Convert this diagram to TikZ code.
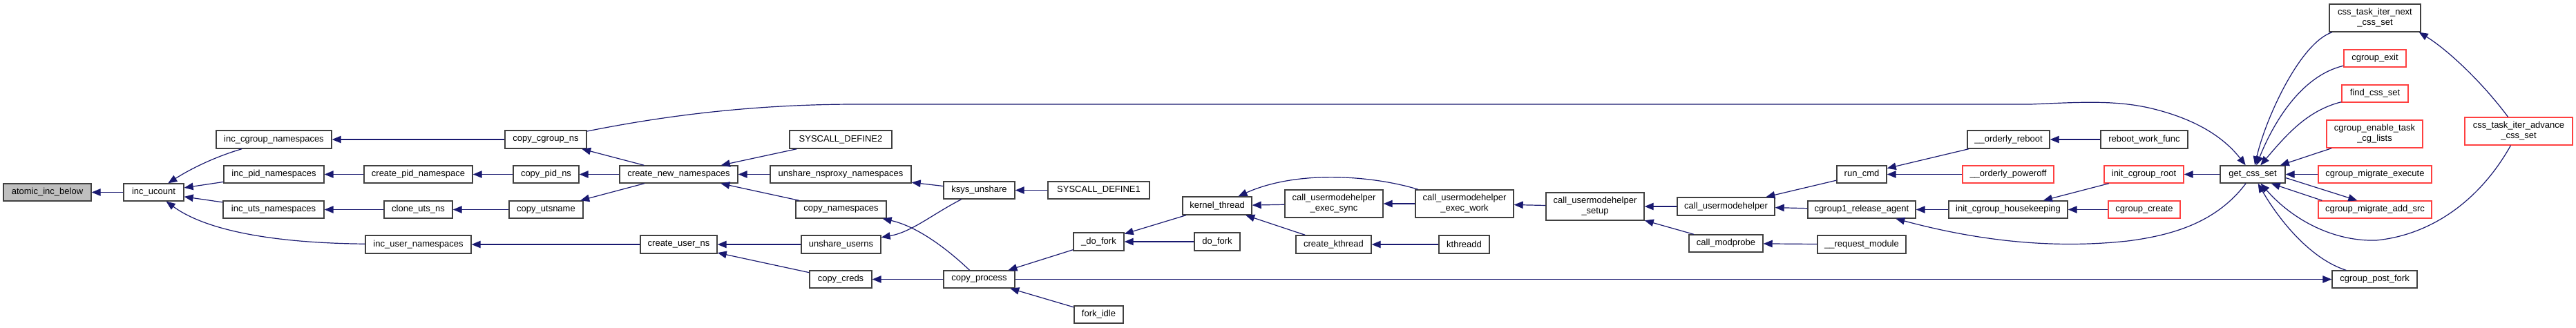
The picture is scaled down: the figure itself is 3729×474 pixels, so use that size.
\documentclass[tikz,border=0pt]{standalone}
\usepackage{fontspec}
\setmainfont{Liberation Sans}
\usetikzlibrary{arrows.meta,calc}
\definecolor{edgeblue}{HTML}{191970}
\definecolor{boxgray}{HTML}{404040}
\definecolor{boxred}{HTML}{FF4040}
\definecolor{fillgray}{HTML}{BFBFBF}
\tikzset{
 fn/.style={draw=boxgray, line width=1.4pt, fill=white, inner sep=0pt, font=\fontsize{13}{15}\selectfont, align=center},
 fnred/.style={fn, draw=boxred},
 fncur/.style={fn, fill=fillgray},
 arr/.style={draw=edgeblue, line width=1.2pt, -{Triangle[length=13pt,width=10.5pt]}},
}
\newcommand\gn[7]{\node[#7, minimum width={(#4)-(#2)}, minimum height={(#5)-(#3)}] (#1) at ({((#2)+(#4))/2},{((#3)+(#5))/2}) {#6};}
\begin{document}
\begin{tikzpicture}[x=1pt,y=-1pt]
\fill[white] (0,0) rectangle (3729,474);
\useasboundingbox (0,0) rectangle (3729,474);
\gn{atomic}{5}{266}{132}{291}{atomic\_inc\_below}{fncur}
\gn{incucount}{179}{266}{266}{291}{inc\_ucount}{fn}
\gn{inccgroupns}{313}{189}{480}{215}{inc\_cgroup\_namespaces}{fn}
\gn{incpidns}{324}{240}{469}{265}{inc\_pid\_namespaces}{fn}
\gn{incutsns}{323}{291}{469}{316}{inc\_uts\_namespaces}{fn}
\gn{incuserns}{529}{341}{682}{367}{inc\_user\_namespaces}{fn}
\gn{createpidns}{527}{240}{684}{265}{create\_pid\_namespace}{fn}
\gn{cloneutsns}{556}{291}{655}{316}{clone\_uts\_ns}{fn}
\gn{copycgroupns}{731}{189}{849}{215}{copy\_cgroup\_ns}{fn}
\gn{copypidns}{743}{240}{838}{265}{copy\_pid\_ns}{fn}
\gn{copyutsname}{737}{291}{844}{316}{copy\_utsname}{fn}
\gn{createnewns}{897}{240}{1068}{265}{create\_new\_namespaces}{fn}
\gn{createuserns}{927}{341}{1038}{367}{create\_user\_ns}{fn}
\gn{sysdef2}{1143}{189}{1291}{215}{SYSCALL\_DEFINE2}{fn}
\gn{unsharensproxy}{1115}{240}{1319}{265}{unshare\_nsproxy\_namespaces}{fn}
\gn{copynamespaces}{1152}{291}{1283}{316}{copy\_namespaces}{fn}
\gn{unshareuserns}{1160}{341}{1275}{367}{unshare\_userns}{fn}
\gn{copycreds}{1172}{392}{1262}{417}{copy\_creds}{fn}
\gn{ksysunshare}{1366}{263}{1469}{288}{ksys\_unshare}{fn}
\gn{sysdef1}{1517}{263}{1664}{288}{SYSCALL\_DEFINE1}{fn}
\gn{copyprocess}{1366}{392}{1469}{417}{copy\_process}{fn}
\gn{dofork2}{1554}{337}{1627}{363}{\_do\_fork}{fn}
\gn{forkidle}{1555}{443}{1626}{468}{fork\_idle}{fn}
\gn{kernelthread}{1712}{285}{1812}{311}{kernel\_thread}{fn}
\gn{dofork}{1729}{337}{1795}{363}{do\_fork}{fn}
\gn{umhsync}{1860}{275}{2002}{315}{call\_usermodehelper\\\_exec\_sync}{fn}
\gn{createkthread}{1876}{341}{1985}{367}{create\_kthread}{fn}
\gn{umhwork}{2049}{275}{2191}{315}{call\_usermodehelper\\\_exec\_work}{fn}
\gn{kthreadd}{2083}{341}{2156}{367}{kthreadd}{fn}
\gn{umhsetup}{2238}{279}{2380}{319}{call\_usermodehelper\\\_setup}{fn}
\gn{umh}{2428}{286}{2569}{312}{call\_usermodehelper}{fn}
\gn{callmodprobe}{2445}{340}{2552}{365}{call\_modprobe}{fn}
\gn{runcmd}{2659}{240}{2731}{265}{run\_cmd}{fn}
\gn{releaseagent}{2617}{291}{2773}{316}{cgroup1\_release\_agent}{fn}
\gn{requestmodule}{2631}{341}{2759}{367}{\_\_request\_module}{fn}
\gn{orderlyreboot}{2848}{189}{2967}{215}{\_\_orderly\_reboot}{fn}
\gn{orderlypoweroff}{2841}{240}{2973}{265}{\_\_orderly\_poweroff}{fnred}
\gn{housekeeping}{2821}{291}{2993}{316}{init\_cgroup\_housekeeping}{fn}
\gn{rebootwork}{3041}{189}{3167}{215}{reboot\_work\_func}{fn}
\gn{initroot}{3046}{240}{3161}{265}{init\_cgroup\_root}{fnred}
\gn{cgcreate}{3052}{291}{3156}{316}{cgroup\_create}{fnred}
\gn{getcssset}{3214}{240}{3308}{265}{get\_css\_set}{fn}
\gn{iternext}{3372}{6}{3504}{46}{css\_task\_iter\_next\\\_css\_set}{fn}
\gn{cgexit}{3393}{72}{3483}{97}{cgroup\_exit}{fnred}
\gn{findcss}{3390}{123}{3486}{148}{find\_css\_set}{fnred}
\gn{enablecg}{3368}{174}{3507}{214}{cgroup\_enable\_task\\\_cg\_lists}{fnred}
\gn{migexec}{3356}{240}{3520}{265}{cgroup\_migrate\_execute}{fnred}
\gn{migadd}{3356}{291}{3520}{316}{cgroup\_migrate\_add\_src}{fnred}
\gn{postfork}{3376}{392}{3499}{417}{cgroup\_post\_fork}{fn}
\gn{iteradv}{3568}{170}{3724}{210}{css\_task\_iter\_advance\\\_css\_set}{fnred}
% edges
\draw[arr] (incucount) -- (atomic);
\draw[arr] (inccgroupns) .. controls (315,226) and (280,242) .. (incucount);
\draw[arr] (incpidns) -- (incucount);
\draw[arr] (incutsns) -- (incucount);
\draw[arr] (incuserns) .. controls (400,352) and (300,335) .. (incucount);
\draw[arr] (copycgroupns) -- (inccgroupns);
\draw[arr] (createpidns) -- (incpidns);
\draw[arr] (copypidns) -- (createpidns);
\draw[arr] (cloneutsns) -- (incutsns);
\draw[arr] (copyutsname) -- (cloneutsns);
\draw[arr] (createuserns) -- (incuserns);
\draw[arr] (createnewns) -- (copycgroupns);
\draw[arr] (createnewns) -- (copypidns);
\draw[arr] (createnewns) -- (copyutsname);
\draw[arr] (sysdef2) -- (createnewns);
\draw[arr] (unsharensproxy) -- (createnewns);
\draw[arr] (copynamespaces) -- (createnewns);
\draw[arr] (unshareuserns) -- (createuserns);
\draw[arr] (copycreds) -- (createuserns);
\draw[arr] (ksysunshare) -- (unsharensproxy);
\draw[arr] (ksysunshare) .. controls (1350,310) and (1320,336) .. (unshareuserns);
\draw[arr] (sysdef1) -- (ksysunshare);
\draw[arr] (copyprocess) .. controls (1360,350) and (1320,326) .. (copynamespaces);
\draw[arr] (copyprocess) -- (copycreds);
\draw[arr] (dofork2) -- (copyprocess);
\draw[arr] (forkidle) -- (copyprocess);
\draw[arr] (copyprocess) -- (postfork);
\draw[arr] (kernelthread) -- (dofork2);
\draw[arr] (dofork) -- (dofork2);
\draw[arr] (umhsync) -- (kernelthread);
\draw[arr] (createkthread) -- (kernelthread);
\draw[arr] (umhwork) .. controls (1990,255) and (1880,245) .. (kernelthread);
\draw[arr] (umhwork) -- (umhsync);
\draw[arr] (kthreadd) -- (createkthread);
\draw[arr] (umhsetup) -- (umhwork);
\draw[arr] (umh) -- (umhsetup);
\draw[arr] (callmodprobe) -- (umhsetup);
\draw[arr] (requestmodule) -- (callmodprobe);
\draw[arr] (runcmd) -- (umh);
\draw[arr] (releaseagent) -- (umh);
\draw[arr] (orderlyreboot) -- (runcmd);
\draw[arr] (orderlypoweroff) -- (runcmd);
\draw[arr] (housekeeping) -- (releaseagent);
\draw[arr] (getcssset) .. controls (3210,320) and (3150,340) .. (3080,349) .. controls (2960,362) and (2850,345) .. (releaseagent);
\draw[arr] (initroot) -- (housekeeping);
\draw[arr] (cgcreate) -- (housekeeping);
\draw[arr] (rebootwork) -- (orderlyreboot);
\draw[arr] (getcssset) -- (initroot);
\draw[arr] (copycgroupns) .. controls (950,170) and (1080,151) .. (1240,151) -- (2940,151) .. controls (3010,148) and (3060,145) .. (3110,156) .. controls (3180,172) and (3220,200) .. (getcssset);
\draw[arr] (iternext) .. controls (3330,62) and (3280,170) .. (getcssset);
\draw[arr] (cgexit) .. controls (3330,110) and (3290,180) .. (getcssset);
\draw[arr] (findcss) .. controls (3340,160) and (3310,195) .. (getcssset);
\draw[arr] (enablecg) -- (getcssset);
\draw[arr] (migexec) -- (getcssset);
\draw[arr] ($(getcssset.east)+(0,5)$) -- ($(migadd.north west)+(57,0)$);
\draw[arr] ($(migadd.north west)+(6,0)$) -- ($(getcssset.south east)+(-21,0)$);
\draw[arr] (iteradv) .. controls (3590,290) and (3520,340) .. (3440,348) .. controls (3380,350) and (3320,320) .. (getcssset);
\draw[arr] (postfork) .. controls (3345,375) and (3300,320) .. (getcssset);
\draw[arr] (iteradv) .. controls (3590,115) and (3540,70) .. ($(iternext.south east)+(-3,0)$);
\end{tikzpicture}
\end{document}
